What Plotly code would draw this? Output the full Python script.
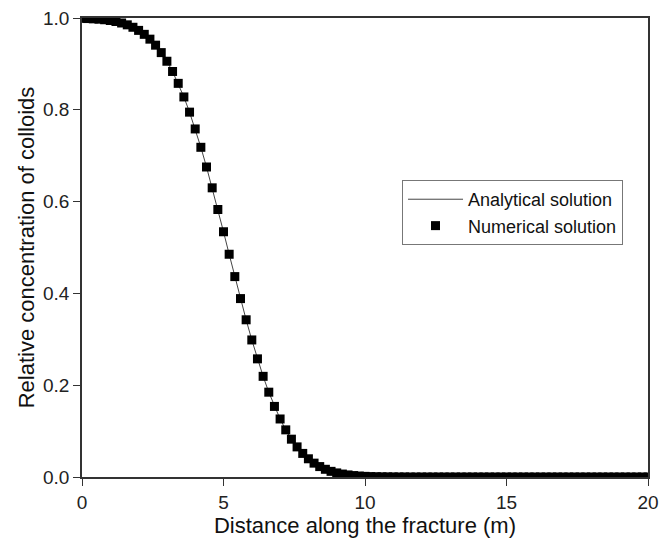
import plotly.graph_objects as go

distance_m = [
    0.0, 0.2, 0.4, 0.6, 0.8, 1.0, 1.2, 1.4, 1.6, 1.8,
    2.0, 2.2, 2.4, 2.6, 2.8, 3.0, 3.2, 3.4, 3.6, 3.8,
    4.0, 4.2, 4.4, 4.6, 4.8, 5.0, 5.2, 5.4, 5.6, 5.8,
    6.0, 6.2, 6.4, 6.6, 6.8, 7.0, 7.2, 7.4, 7.6, 7.8,
    8.0, 8.2, 8.4, 8.6, 8.8, 9.0, 9.2, 9.4, 9.6, 9.8,
    10.0, 10.2, 10.4, 10.6, 10.8, 11.0, 11.2, 11.4, 11.6, 11.8,
    12.0, 12.2, 12.4, 12.6, 12.8, 13.0, 13.2, 13.4, 13.6, 13.8,
    14.0, 14.2, 14.4, 14.6, 14.8, 15.0, 15.2, 15.4, 15.6, 15.8,
    16.0, 16.2, 16.4, 16.6, 16.8, 17.0, 17.2, 17.4, 17.6, 17.8,
    18.0, 18.2, 18.4, 18.6, 18.8, 19.0, 19.2, 19.4, 19.6, 19.8,
    20.0,
]

analytical = [
    0.9992, 0.9988, 0.9982, 0.9974, 0.9962, 0.9946, 0.9923, 0.9891, 0.9851, 0.9798,
    0.9730, 0.9644, 0.9539, 0.9408, 0.9246, 0.9058, 0.8835, 0.8576, 0.8280, 0.7949,
    0.7583, 0.7183, 0.6754, 0.6300, 0.5828, 0.5343, 0.4853, 0.4366, 0.3887, 0.3425,
    0.2986, 0.2574, 0.2193, 0.1848, 0.1538, 0.1264, 0.1027, 0.0824, 0.0656, 0.0514,
    0.0397, 0.0302, 0.0227, 0.0168, 0.0123, 0.0089, 0.0064, 0.0045, 0.0031, 0.0021,
    0.0014, 0.0009, 0.0006, 0.0004, 0.0003, 0.0002, 0.0001, 0.0001, 0.0, 0.0,
    0.0, 0.0, 0.0, 0.0, 0.0, 0.0, 0.0, 0.0, 0.0, 0.0,
    0.0, 0.0, 0.0, 0.0, 0.0, 0.0, 0.0, 0.0, 0.0, 0.0,
    0.0, 0.0, 0.0, 0.0, 0.0, 0.0, 0.0, 0.0, 0.0, 0.0,
    0.0, 0.0, 0.0, 0.0, 0.0, 0.0, 0.0, 0.0, 0.0, 0.0,
    0.0,
]

numerical = [
    0.9992, 0.9988, 0.9982, 0.9974, 0.9962, 0.9946, 0.9923, 0.9891, 0.9851, 0.9798,
    0.9730, 0.9644, 0.9539, 0.9408, 0.9246, 0.9058, 0.8835, 0.8576, 0.8280, 0.7949,
    0.7583, 0.7183, 0.6754, 0.6300, 0.5828, 0.5343, 0.4853, 0.4366, 0.3887, 0.3425,
    0.2986, 0.2574, 0.2193, 0.1848, 0.1538, 0.1264, 0.1027, 0.0824, 0.0656, 0.0514,
    0.0397, 0.0302, 0.0227, 0.0168, 0.0123, 0.0089, 0.0064, 0.0045, 0.0031, 0.0021,
    0.0014, 0.0009, 0.0006, 0.0004, 0.0003, 0.0002, 0.0001, 0.0001, 0.0, 0.0,
    0.0, 0.0, 0.0, 0.0, 0.0, 0.0, 0.0, 0.0, 0.0, 0.0,
    0.0, 0.0, 0.0, 0.0, 0.0, 0.0, 0.0, 0.0, 0.0, 0.0,
    0.0, 0.0, 0.0, 0.0, 0.0, 0.0, 0.0, 0.0, 0.0, 0.0,
    0.0, 0.0, 0.0, 0.0, 0.0, 0.0, 0.0, 0.0, 0.0, 0.0,
    0.0,
]

x_ticks = [0, 5, 10, 15, 20]
y_ticks = [0.0, 0.2, 0.4, 0.6, 0.8, 1.0]
y_tick_labels = ["0.0", "0.2", "0.4", "0.6", "0.8", "1.0"]

FONT = "Liberation Sans, Arial, sans-serif"

fig = go.Figure()
fig.add_trace(go.Scatter(
    x=distance_m, y=analytical, mode="lines", name="Analytical solution",
    line=dict(color="#444444", width=1),
))
fig.add_trace(go.Scatter(
    x=distance_m, y=numerical, mode="markers", name="Numerical solution",
    marker=dict(symbol="square", size=9, color="black", line=dict(width=0)),
))

axis_common = dict(
    showgrid=False, zeroline=False, showline=True, linecolor="#333333",
    linewidth=1.5, mirror=True, ticks="outside", tickcolor="#333333",
    tickwidth=1.2, ticklen=7, automargin=False,
    tickfont=dict(family=FONT, size=19, color="#222222"),
)

fig.update_layout(
    width=660, height=550,
    margin=dict(l=82, r=12, t=18, b=73, autoexpand=False),
    paper_bgcolor="white", plot_bgcolor="white",
    font=dict(family=FONT, color="#111111"),
    xaxis=dict(
        range=[0, 20], tickvals=x_ticks,
        title=dict(text="Distance along the fracture (m)",
                   font=dict(family=FONT, size=22, color="#111111"), standoff=6),
        **axis_common,
    ),
    yaxis=dict(
        range=[0, 1], tickvals=y_ticks, ticktext=y_tick_labels,
        title=dict(text="Relative concentration of colloids",
                   font=dict(family=FONT, size=22, color="#111111"), standoff=2),
        **axis_common,
    ),
    legend=dict(
        x=0.5654, y=0.647, xanchor="left", yanchor="top",
        bordercolor="#777777", borderwidth=1, bgcolor="white",
        font=dict(family=FONT, size=18, color="#111111"),
        tracegroupgap=0, itemwidth=55,
    ),
    showlegend=True,
)

fig.write_html("out.html")
